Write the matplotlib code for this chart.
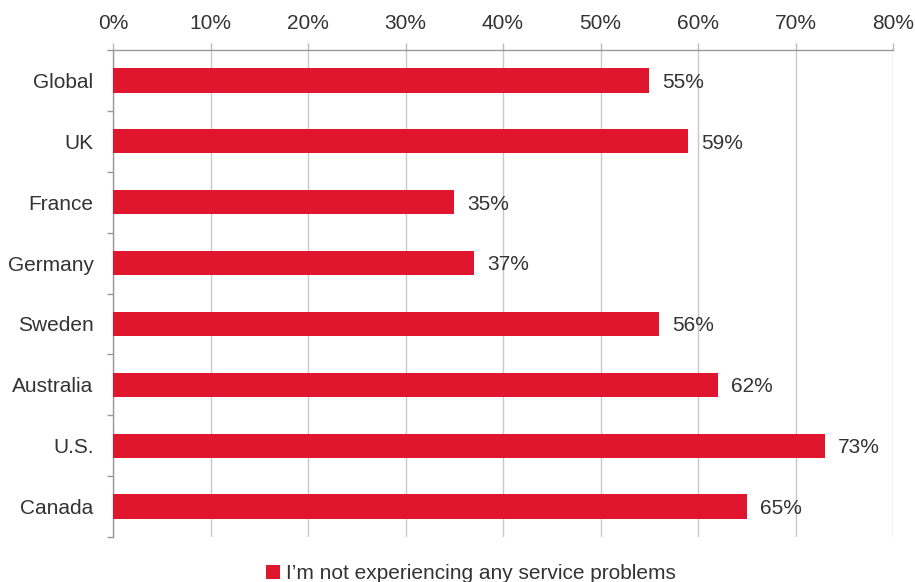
import numpy as np
import matplotlib.pyplot as plt
from matplotlib.patches import Patch
from matplotlib.ticker import FixedLocator, PercentFormatter

# survey results per country
countries = ['Global', 'UK', 'France', 'Germany', 'Sweden', 'Australia', 'U.S.', 'Canada']
values = [55, 59, 35, 37, 56, 62, 73, 65]
series_name = 'I\u2019m not experiencing any service problems'
x_ticks = [0, 10, 20, 30, 40, 50, 60, 70, 80]

bar_color = '#E0162F'
text_color = '#333333'
axis_color = '#999999'

plt.rcParams['font.family'] = ['Liberation Sans', 'DejaVu Sans']

fig = plt.figure(figsize=(9.15, 5.82), dpi=100)
ax = fig.add_axes([113 / 915, 1 - 537 / 582, 780 / 915, 487 / 582])

y = np.arange(len(countries))
ax.barh(y, values, height=0.4, color=bar_color, zorder=3)

# value labels at the end of each bar
for yi, v in zip(y, values):
    ax.text(v + 1.35, yi + 0.03, f'{v}%', va='center', ha='left',
            fontsize=15, color=text_color)

ax.set_xlim(0, 80)
ax.set_ylim(len(countries) - 0.5, -0.5)

# x axis on top with percent labels
ax.xaxis.tick_top()
ax.set_xticks(x_ticks)
ax.xaxis.set_major_formatter(PercentFormatter(decimals=0))
ax.tick_params(axis='x', which='major', length=5, width=1, color='#bbbbbb',
               labelsize=15, labelcolor=text_color, pad=7.5)
ax.grid(axis='x', color='#c8c8c8', linewidth=1, zorder=0)

# category labels at centres, tick marks between categories
ax.set_yticks(y)
ax.set_yticklabels(countries)
ax.yaxis.set_minor_locator(FixedLocator(np.arange(len(countries) + 1) - 0.5))
ax.tick_params(axis='y', which='major', length=0, labelsize=15,
               labelcolor=text_color, pad=14)
ax.tick_params(axis='y', which='minor', length=4.5, width=1, color=axis_color)

for side in ['right', 'bottom']:
    ax.spines[side].set_visible(False)
for side in ['top', 'left']:
    ax.spines[side].set_color(axis_color)
    ax.spines[side].set_linewidth(1)

handle = Patch(facecolor=bar_color, edgecolor='none')
fig.legend([handle], [series_name], loc='center', bbox_to_anchor=(471 / 915, 0.014),
           frameon=False, fontsize=15, handlelength=0.7, handleheight=0.7,
           handletextpad=0.3, labelcolor=text_color)

fig.savefig('out.png', dpi=100)
